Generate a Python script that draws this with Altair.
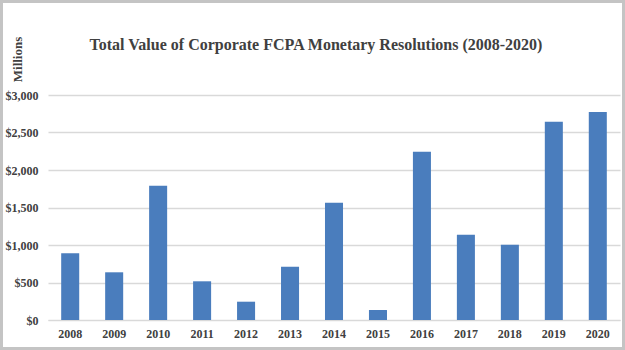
import altair as alt
import pandas as pd

years = ["2008", "2009", "2010", "2011", "2012", "2013", "2014",
         "2015", "2016", "2017", "2018", "2019", "2020"]
values = [890, 636, 1790, 516, 244, 711, 1564, 133, 2244, 1138, 1004, 2644, 2773]

df = pd.DataFrame({"year": years, "value": values})

FONT = "Liberation Serif"

bars = alt.Chart(df).mark_bar(color="#4a7dbd").encode(
    x=alt.X("year:N", title=None, sort=years,
            scale=alt.Scale(paddingInner=0.59, paddingOuter=0.3),
            axis=alt.Axis(labelAngle=0, ticks=False, domain=True, domainColor="#d9d9d9",
                          labelFont=FONT, labelFontWeight="bold", labelFontSize=12,
                          labelColor="#404040", labelPadding=8)),
    y=alt.Y("value:Q", title="Millions",
            scale=alt.Scale(domain=[0, 3000]),
            axis=alt.Axis(values=[0, 500, 1000, 1500, 2000, 2500, 3000],
                          format="$,.0f", ticks=False, domain=False,
                          gridColor="#d9d9d9", gridWidth=1.5,
                          labelFont=FONT, labelFontWeight="bold", labelFontSize=12,
                          labelColor="#404040", labelPadding=10,
                          titleFont=FONT, titleFontWeight="bold", titleFontSize=13,
                          titleColor="#404040", titleAngle=-90,
                          titleAlign="center", titleBaseline="middle",
                          titleX=-31, titleY=-36)),
)

# decorative outer frame around the whole figure
frame = alt.Chart(pd.DataFrame({"k": [0]})).mark_rect(
    fill=None, stroke="#c4c4c4", strokeWidth=6, clip=False
).encode(
    x=alt.value(-48), x2=alt.value(577),
    y=alt.value(-95), y2=alt.value(255),
)

chart = alt.layer(bars, frame).properties(
    width=572,
    height=225,
    title=alt.TitleParams(
        "Total Value of Corporate FCPA Monetary Resolutions (2008-2020)",
        font=FONT, fontWeight="bold", fontSize=16, color="#404040",
        anchor="middle", dx=-18, offset=-56,
    ),
    autosize=alt.AutoSizeParams(type="none"),
    padding={"left": 48, "top": 95, "right": 5, "bottom": 30},
).configure_view(stroke=None)

chart.save("out.html", embed_options={"renderer": "svg", "actions": False})
